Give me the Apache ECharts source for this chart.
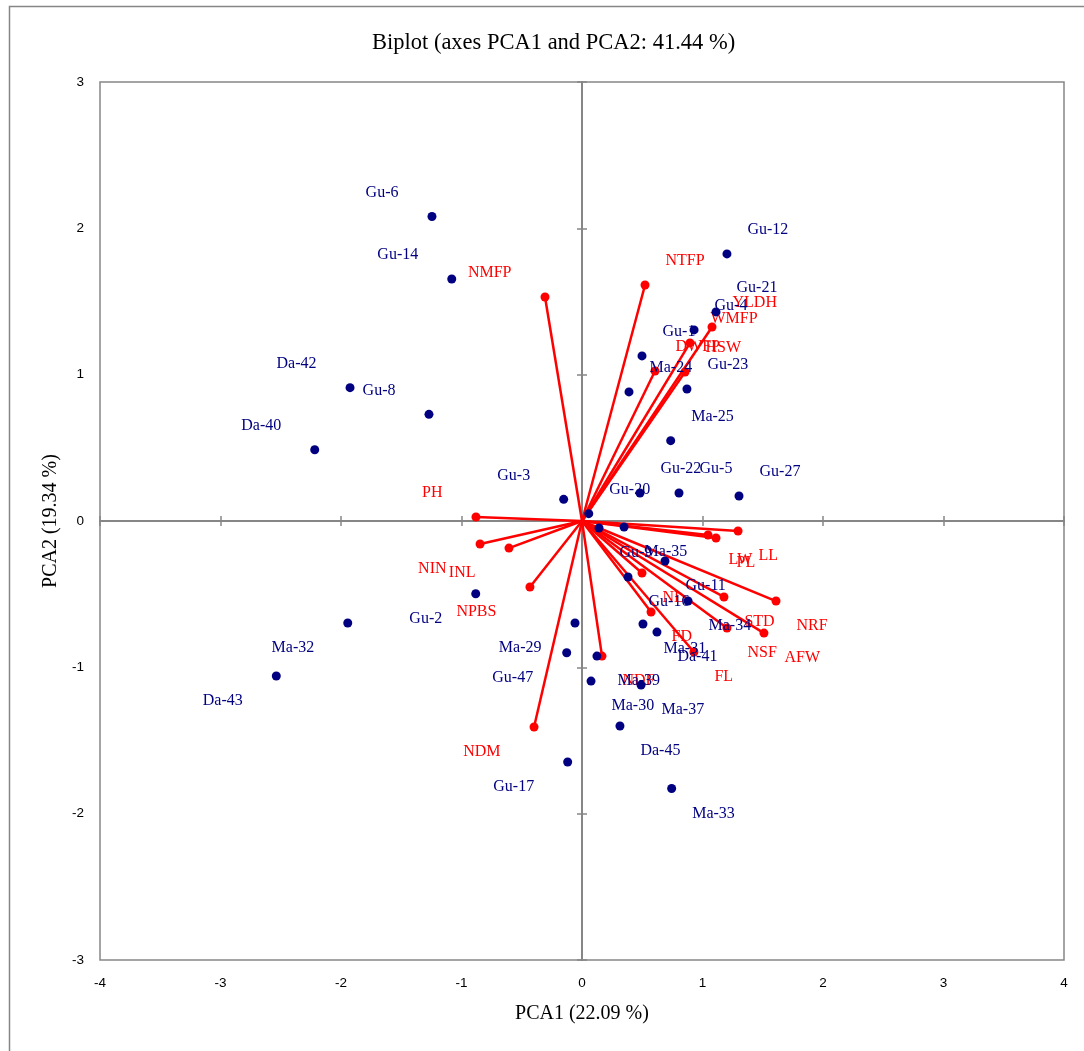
<!DOCTYPE html>
<html>
<head>
<meta charset="utf-8">
<script src="https://cdn.jsdelivr.net/npm/echarts@6/dist/echarts.min.js"></script>
<style>
  html, body { margin: 0; padding: 0; background: #fff; }
  #main { width: 1084px; height: 1051px; }
</style>
</head>
<body>
<div id="main"></div>
<script>
// observations (blue)
var obsNames = ["Gu-6", "Gu-14", "Da-42", "Gu-8", "Da-40", "Gu-3", "Gu-12", "Gu-21", "Gu-4", "Gu-1",
    "Ma-24", "Gu-23", "Ma-25", "Gu-22", "Gu-5", "Gu-27", "Gu-20", "Gu-9", "Ma-35", "Gu-11",
    "Gu-16", "Ma-34", "Ma-31", "Da-41", "Ma-39", "Ma-30", "Ma-37", "Da-45", "Ma-33", "Gu-2",
    "Ma-29", "Gu-47", "Gu-17", "Ma-32", "Da-43"];
var obsX = [-1.245, -1.081, -1.925, -1.270, -2.218, -0.152, 1.203, 1.112, 0.930, 0.498,
    0.390, 0.871, 0.736, 0.481, 0.805, 1.303, 0.056, 0.141, 0.349, 0.689,
    0.382, 0.880, 0.506, 0.622, 0.124, 0.075, 0.490, 0.315, 0.744, -0.882,
    -0.058, -0.127, -0.119, -1.944, -2.537];
var obsY = [2.081, 1.654, 0.911, 0.729, 0.487, 0.148, 1.825, 1.429, 1.306, 1.128,
    0.882, 0.902, 0.549, 0.191, 0.191, 0.171, 0.050, -0.048, -0.041, -0.273,
    -0.383, -0.547, -0.704, -0.759, -0.923, -1.094, -1.121, -1.401, -1.828, -0.497,
    -0.697, -0.900, -1.647, -0.697, -1.059];

// variables (red vectors)
var varNames = ["NMFP", "NTFP", "YLDH", "WMFP", "DWFP", "HSW", "PH", "NIN", "INL", "NPBS", "NDM",
    "LL", "LW", "PL", "NL", "STD", "NRF", "FD", "NSF", "AFW", "FL", "NDF"];
var varX = [-0.307, 0.523, 1.079, 0.896, 0.606, 0.855, -0.880, -0.846, -0.606, -0.432, -0.398,
    1.295, 1.046, 1.112, 0.498, 1.178, 1.610, 0.573, 1.203, 1.510, 0.929, 0.166];
var varY = [1.531, 1.613, 1.326, 1.217, 1.025, 1.018, 0.027, -0.157, -0.185, -0.451, -1.408,
    -0.068, -0.096, -0.116, -0.355, -0.519, -0.547, -0.622, -0.731, -0.766, -0.895, -0.923];

var xMin = -4, xMax = 4, yMin = -3, yMax = 3;

var gray = "#868686";
var navy = "#000080";
var red = "#ff0000";
var serif = "Liberation Serif";

// label sits away from the origin: left/right of the mark, above or below it
function labelFor(x, y, color) {
    return {
        show: true,
        position: x < 0 ? "left" : "right",
        distance: x < 0 ? 29 : 16,
        offset: [0, y < 0 ? 25 : -24],
        color: color,
        fontFamily: serif,
        fontSize: 16
    };
}

var obsData = obsNames.map(function (n, i) {
    return { name: n, value: [obsX[i], obsY[i]], label: labelFor(obsX[i], obsY[i], navy) };
});
var varData = varNames.map(function (n, i) {
    return { name: n, value: [varX[i], varY[i]], label: labelFor(varX[i], varY[i], red) };
});
var vecData = varNames.map(function (n, i) {
    return { coords: [[0, 0], [varX[i], varY[i]]] };
});

var dom = document.getElementById("main");
var myChart = echarts.init(dom, null, { renderer: "canvas" });

var labelAxisX = {
    type: "value", min: xMin, max: xMax, interval: 1, position: "bottom",
    axisLine: { show: false, onZero: false }, axisTick: { show: false }, splitLine: { show: false },
    axisLabel: { margin: 16, color: "#000", fontFamily: "Liberation Sans", fontSize: 13.5 },
    name: "PCA1 (22.09 %)", nameLocation: "middle", nameGap: 44,
    nameTextStyle: { fontFamily: serif, fontSize: 20, color: "#000" }
};
var labelAxisY = {
    type: "value", min: yMin, max: yMax, interval: 1, position: "left",
    axisLine: { show: false, onZero: false }, axisTick: { show: false }, splitLine: { show: false },
    axisLabel: { margin: 16, color: "#000", fontFamily: "Liberation Sans", fontSize: 13.5 },
    name: "PCA2 (19.34 %)", nameLocation: "middle", nameGap: 33,
    nameTextStyle: { fontFamily: serif, fontSize: 20, color: "#000" }
};
function zeroAxis(min, max, pos) {
    return {
        type: "value", min: min, max: max, interval: 1, position: pos,
        axisLine: { show: true, onZero: true, onZeroAxisIndex: 0, lineStyle: { color: gray, width: 2 } },
        axisTick: { show: true, inside: false, length: 5, lineStyle: { color: gray, width: 1.5 } },
        axisLabel: { show: false }, splitLine: { show: false }
    };
}

var option = {
    animation: false,
    backgroundColor: "#fff",
    title: {
        text: "Biplot (axes PCA1 and PCA2: 41.44 %)",
        left: 367, top: 27,
        textStyle: { fontFamily: serif, fontSize: 22.5, fontWeight: "normal", color: "#000" }
    },
    graphic: [{
        type: "rect", left: 7, top: 4, z: -10,
        shape: { width: 1200, height: 1200 },
        style: { fill: null, stroke: gray, lineWidth: 1.5 }
    }],
    grid: { left: 100, right: 20, top: 82, bottom: 91, show: true, borderColor: gray, borderWidth: 1.5 },
    xAxis: [labelAxisX, zeroAxis(xMin, xMax, "bottom"), zeroAxis(xMin, xMax, "top")],
    yAxis: [labelAxisY, zeroAxis(yMin, yMax, "left"), zeroAxis(yMin, yMax, "right")],
    series: [
        {
            name: "vectors", type: "lines", coordinateSystem: "cartesian2d",
            xAxisIndex: 0, yAxisIndex: 0, z: 3,
            lineStyle: { color: red, width: 2.5, opacity: 1, curveness: 0 },
            data: vecData
        },
        {
            name: "variables", type: "scatter", xAxisIndex: 0, yAxisIndex: 0, z: 4,
            symbolSize: 9, itemStyle: { color: red, opacity: 1 },
            label: { formatter: "{b}" },
            data: varData
        },
        {
            name: "observations", type: "scatter", xAxisIndex: 0, yAxisIndex: 0, z: 5,
            symbolSize: 9, itemStyle: { color: navy, opacity: 1 },
            label: { formatter: "{b}" },
            data: obsData
        }
    ]
};
option && "object" == typeof option && myChart.setOption(option, !0);
</script>
</body>
</html>
